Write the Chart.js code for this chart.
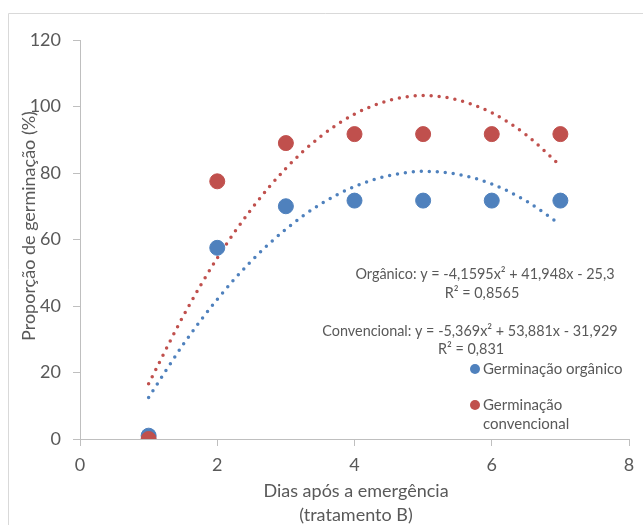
<!DOCTYPE html>
<html>
<head>
<meta charset="utf-8">
<script src="https://cdn.jsdelivr.net/npm/chart.js@4/dist/chart.umd.min.js"></script>
<style>
  html, body { margin: 0; padding: 0; background: #fff; }
  #wrap { width: 643px; height: 525px; position: relative; }
</style>
</head>
<body>
<div id="wrap"><canvas id="chart" width="643" height="525"></canvas></div>
<script>
// Days after emergence
var dias = [1, 2, 3, 4, 5, 6, 7];
// Germination proportion (%)
var organico = [1, 57.5, 70, 71.7, 71.7, 71.7, 71.7];
var convencional = [0, 77.5, 89, 91.7, 91.7, 91.7, 91.7];

// Dotted polynomial trendlines
var trendX = [1, 1.5, 2, 2.5, 3, 3.5, 4, 4.5, 5, 5.5, 6, 6.5, 7];
var trendOrganico = [12.5, 28.3, 42.0, 53.6, 63.1, 70.6, 75.9, 79.2, 80.5, 79.6, 76.7, 71.6, 64.5];
var trendConvencional = [16.6, 36.8, 54.4, 69.2, 81.4, 90.9, 97.7, 101.8, 103.3, 102.0, 98.1, 91.5, 82.2];

var xTicks = [0, 2, 4, 6, 8];
var yTicks = [0, 20, 40, 60, 80, 100, 120];

var azul = "#4F81BD";
var vermelho = "#C0504D";
var textColor = "#595959";
var axisColor = "#BFBFBF";
var fontFam = "Lato, 'Open Sans', sans-serif";

function pts(xs, ys) {
  return xs.map(function (x, i) { return { x: x, y: ys[i] }; });
}

// Extra texts: border, axis titles, equations and legend
var extras = {
  id: "extras",
  beforeDraw: function (chart) {
    var ctx = chart.ctx;
    ctx.save();
    ctx.strokeStyle = "#D9D9D9";
    ctx.lineWidth = 1;
    ctx.beginPath();
    ctx.moveTo(8.5, 525);
    ctx.lineTo(8.5, 13.5);
    ctx.lineTo(643, 13.5);
    ctx.stroke();
    ctx.restore();
  },
  afterDraw: function (chart) {
    var ctx = chart.ctx;
    ctx.save();
    ctx.fillStyle = textColor;

    // y axis title
    ctx.save();
    ctx.translate(29, 226);
    ctx.rotate(-Math.PI / 2);
    ctx.font = "18px " + fontFam;
    ctx.textAlign = "center";
    ctx.textBaseline = "middle";
    ctx.fillText("Proporção de germinação (%)", 0, 0);
    ctx.restore();

    // x axis title
    ctx.font = "18px " + fontFam;
    ctx.textAlign = "center";
    ctx.textBaseline = "middle";
    ctx.fillText("Dias após a emergência", 356, 491);
    ctx.fillText("(tratamento B)", 356, 515);

    // trendline equations
    ctx.font = "14.4px " + fontFam;
    ctx.fillText("Orgânico: y = -4,1595x² + 41,948x - 25,3", 485, 274);
    ctx.fillText("R² = 0,8565", 482, 293);
    ctx.fillText("Convencional: y = -5,369x² + 53,881x - 31,929", 470, 331);
    ctx.fillText("R² = 0,831", 471, 349);

    // legend
    ctx.textAlign = "left";
    ctx.fillStyle = azul;
    ctx.beginPath();
    ctx.arc(475, 369, 5, 0, Math.PI * 2);
    ctx.fill();
    ctx.fillStyle = vermelho;
    ctx.beginPath();
    ctx.arc(475, 405, 5, 0, Math.PI * 2);
    ctx.fill();
    ctx.fillStyle = textColor;
    ctx.font = "15px " + fontFam;
    ctx.fillText("Germinação orgânico", 483, 369);
    ctx.fillText("Germinação", 483, 405);
    ctx.fillText("convencional", 483, 424);
    ctx.restore();
  }
};

new Chart(document.getElementById("chart"), {
  type: "scatter",
  data: {
    datasets: [
      {
        label: "Germinação convencional",
        data: pts(dias, convencional),
        backgroundColor: vermelho,
        borderColor: vermelho,
        pointRadius: 7.5,
        pointHoverRadius: 7.5,
        order: 0
      },
      {
        label: "Germinação orgânico",
        data: pts(dias, organico),
        backgroundColor: azul,
        borderColor: azul,
        pointRadius: 7.5,
        pointHoverRadius: 7.5,
        order: 1
      },
      {
        label: "Polinômio (convencional)",
        data: pts(trendX, trendConvencional),
        showLine: true,
        borderColor: vermelho,
        borderWidth: 3.5,
        borderDash: [0, 8],
        borderCapStyle: "round",
        cubicInterpolationMode: "monotone",
        pointRadius: 0,
        order: 2
      },
      {
        label: "Polinômio (orgânico)",
        data: pts(trendX, trendOrganico),
        showLine: true,
        borderColor: azul,
        borderWidth: 3.5,
        borderDash: [0, 8],
        borderCapStyle: "round",
        cubicInterpolationMode: "monotone",
        pointRadius: 0,
        order: 3
      }
    ]
  },
  options: {
    responsive: false,
    animation: false,
    layout: { padding: { top: 40, right: 14, left: 0, bottom: 0 } },
    plugins: {
      legend: { display: false },
      tooltip: { enabled: false }
    },
    scales: {
      x: {
        type: "linear",
        min: xTicks[0],
        max: xTicks[xTicks.length - 1],
        afterBuildTicks: function (s) { s.ticks = xTicks.map(function (v) { return { value: v }; }); },
        afterFit: function (s) { s.height = 86; },
        grid: { drawOnChartArea: false, drawTicks: true, tickLength: 7, color: axisColor },
        border: { color: axisColor, width: 1 },
        ticks: { color: textColor, font: { family: fontFam, size: 18 }, padding: 8 }
      },
      y: {
        type: "linear",
        min: yTicks[0],
        max: yTicks[yTicks.length - 1],
        afterBuildTicks: function (s) { s.ticks = yTicks.map(function (v) { return { value: v }; }); },
        afterFit: function (s) { s.width = 80; },
        grid: { drawOnChartArea: false, drawTicks: true, tickLength: 7, color: axisColor },
        border: { color: axisColor, width: 1 },
        ticks: { color: textColor, font: { family: fontFam, size: 18 }, padding: 12 }
      }
    }
  },
  plugins: [extras]
});
</script>
</body>
</html>
